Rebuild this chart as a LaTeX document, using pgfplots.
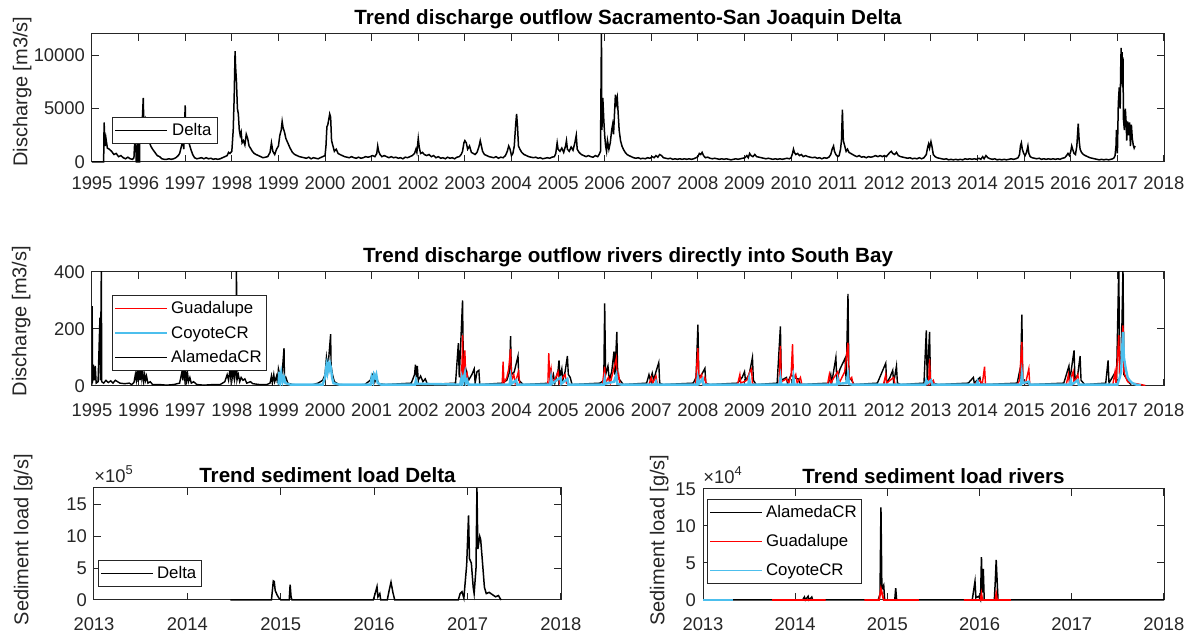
\documentclass[border=0pt]{standalone}
\usepackage{pgfplots}
\pgfplotsset{compat=1.18}
\usepackage{pgfplotstable}
\usepackage{fontspec}
\setmainfont{Liberation Sans}
\definecolor{axgray}{rgb}{0.15,0.15,0.15}
\definecolor{mcyan}{rgb}{0.30,0.75,0.93}
\definecolor{mred}{rgb}{1,0,0}
\pgfplotsset{
  every axis title/.style={at={(0.5,1)}, anchor=south, yshift=1.2pt, inner sep=1pt, font=\bfseries\fontsize{10.3}{12}\selectfont},
  myaxis/.style={
    scale only axis,
    axis line style={axgray, line width=0.5pt},
    major tick style={axgray, line width=0.5pt},
    major tick length=3.5pt,
    tick align=inside,
    tick label style={font=\fontsize{9.2}{10}\selectfont, text=axgray},
    xticklabel style={yshift=-4pt},
    /pgf/number format/assume math mode=true,
    /pgf/number format/1000 sep={},
    scaled ticks=false,
    ylabel style={font=\fontsize{10}{12}\selectfont, text=axgray, anchor=south, inner sep=0pt},
    legend cell align=left,
    legend style={font=\fontsize{8.4}{9}\selectfont, draw=axgray, line width=0.5pt, fill=white, inner xsep=1pt, inner ysep=1pt, anchor=south west, nodes={inner sep=1.5pt, text height=6.5pt, text depth=1.5pt}},
    legend image code/.code={\draw[#1, line width=0.8pt] (0pt,0pt) -- (26pt,0pt);},
    unbounded coords=jump,
  },
  mult/.style={after end axis/.code={\node[anchor=south west, inner sep=0pt, yshift=2.5pt, font=\fontsize{9.2}{10}\selectfont, text=axgray] at (rel axis cs:0,1) {×10\textsuperscript{#1}};}},
}

\pgfplotstableread{
x y
1995.00 0
1995.25 0
1995.26 3700
1995.28 1500
1995.30 2200
1995.33 1300
1995.37 1200
1995.42 1000
1995.47 700
1995.52 800
1995.57 500
1995.62 600
1995.67 400
1995.72 300
1995.77 450
1995.82 300
1995.87 250
1995.90 400
1995.92 2200
1995.94 1500
1995.95 0
1995.97 0
1995.98 2000
1996.00 0
1996.02 0
1996.03 4200
1996.05 2500
1996.08 4000
1996.10 6000
1996.11 3800
1996.14 4100
1996.18 3000
1996.22 2000
1996.26 1500
1996.30 1200
1996.35 900
1996.40 600
1996.45 500
1996.50 300
1996.55 250
1996.60 250
1996.65 300
1996.70 250
1996.75 300
1996.80 400
1996.85 600
1996.88 800
1996.92 1500
1996.95 2000
1996.97 1200
1997.00 5300
1997.01 3000
1997.04 2500
1997.08 1800
1997.12 1200
1997.16 700
1997.20 400
1997.25 300
1997.30 350
1997.35 400
1997.40 300
1997.45 400
1997.50 300
1997.55 350
1997.60 250
1997.65 300
1997.70 250
1997.75 300
1997.80 400
1997.85 500
1997.90 600
1997.93 900
1997.96 800
1998.00 1000
1998.03 3000
1998.05 6000
1998.07 10400
1998.08 9000
1998.10 7500
1998.12 5000
1998.14 4500
1998.16 3000
1998.18 2500
1998.20 2800
1998.22 1800
1998.25 2000
1998.28 1600
1998.31 2600
1998.34 2200
1998.37 1500
1998.40 1300
1998.44 1000
1998.48 800
1998.52 700
1998.57 600
1998.62 500
1998.67 400
1998.72 450
1998.77 500
1998.82 900
1998.85 1800
1998.88 1000
1998.92 700
1998.96 1200
1999.00 1500
1999.03 2500
1999.06 3000
1999.08 3800
1999.10 3200
1999.13 2800
1999.16 2200
1999.20 1800
1999.25 1300
1999.30 900
1999.35 700
1999.40 600
1999.45 500
1999.50 450
1999.55 400
1999.60 350
1999.65 450
1999.70 300
1999.75 400
1999.80 350
1999.85 300
1999.90 400
1999.95 500
2000.00 600
2000.02 1500
2000.04 3300
2000.06 3500
2000.08 4000
2000.10 4500
2000.12 4200
2000.14 2000
2000.17 1500
2000.20 1000
2000.24 1200
2000.28 800
2000.32 700
2000.37 600
2000.42 500
2000.47 450
2000.52 400
2000.57 500
2000.62 400
2000.67 350
2000.72 450
2000.77 350
2000.82 400
2000.87 500
2000.92 450
2000.97 500
2001.02 600
2001.07 500
2001.11 800
2001.13 1500
2001.15 1000
2001.18 700
2001.22 500
2001.27 600
2001.32 500
2001.37 400
2001.42 500
2001.47 400
2001.52 450
2001.57 350
2001.62 400
2001.67 300
2001.72 450
2001.77 400
2001.82 500
2001.87 600
2001.92 800
2001.95 1200
2001.97 900
2002.00 2200
2002.02 1400
2002.05 800
2002.09 900
2002.13 700
2002.18 600
2002.23 700
2002.28 500
2002.33 600
2002.38 400
2002.43 500
2002.48 350
2002.53 400
2002.58 300
2002.63 450
2002.68 350
2002.73 400
2002.78 300
2002.83 450
2002.88 500
2002.92 700
2002.95 1000
2002.98 1800
2003.00 2000
2003.03 1800
2003.06 1200
2003.10 1500
2003.14 900
2003.18 800
2003.22 700
2003.26 900
2003.30 1400
2003.33 2000
2003.35 1600
2003.38 1000
2003.42 700
2003.47 600
2003.52 500
2003.57 450
2003.62 400
2003.67 500
2003.72 350
2003.77 450
2003.82 400
2003.87 600
2003.91 1000
2003.94 1500
2003.97 1200
2004.00 600
2004.03 800
2004.06 1500
2004.09 3500
2004.11 4500
2004.13 3300
2004.15 1500
2004.18 1200
2004.22 900
2004.27 700
2004.32 600
2004.37 500
2004.42 450
2004.47 400
2004.52 450
2004.57 350
2004.62 400
2004.67 300
2004.72 350
2004.77 400
2004.82 350
2004.87 450
2004.92 500
2004.95 800
2004.98 1800
2005.00 1200
2005.04 1000
2005.08 1300
2005.12 900
2005.16 1500
2005.18 2000
2005.20 1200
2005.24 1000
2005.28 1400
2005.32 1100
2005.36 1800
2005.39 2500
2005.41 1200
2005.45 900
2005.50 700
2005.55 600
2005.60 500
2005.65 600
2005.70 500
2005.75 450
2005.80 600
2005.85 500
2005.88 700
2005.91 1000
2005.93 12000
2005.94 3000
2005.96 6000
2005.98 4000
2006.00 2500
2006.02 1500
2006.04 1000
2006.06 2000
2006.09 1200
2006.12 1800
2006.15 3000
2006.17 3500
2006.19 2600
2006.21 4500
2006.23 6300
2006.25 5500
2006.27 6000
2006.29 4500
2006.31 3000
2006.34 2000
2006.37 1500
2006.40 1200
2006.44 900
2006.48 700
2006.52 600
2006.57 500
2006.62 400
2006.67 350
2006.72 400
2006.77 300
2006.82 350
2006.87 300
2006.92 400
2006.97 350
2007.02 500
2007.06 400
2007.10 600
2007.14 450
2007.18 700
2007.22 600
2007.26 400
2007.31 350
2007.36 300
2007.41 350
2007.46 250
2007.51 300
2007.56 250
2007.61 300
2007.66 250
2007.71 300
2007.76 250
2007.81 300
2007.86 250
2007.91 300
2007.96 400
2008.00 500
2008.03 800
2008.06 700
2008.09 900
2008.12 600
2008.16 400
2008.21 450
2008.26 350
2008.31 300
2008.36 350
2008.41 300
2008.46 250
2008.51 300
2008.56 250
2008.61 300
2008.66 250
2008.71 200
2008.76 250
2008.81 300
2008.86 250
2008.91 300
2008.96 350
2009.01 400
2009.05 600
2009.08 400
2009.11 800
2009.14 600
2009.18 500
2009.22 700
2009.26 500
2009.31 450
2009.36 400
2009.41 350
2009.46 300
2009.51 350
2009.56 300
2009.61 250
2009.66 300
2009.71 250
2009.76 300
2009.81 250
2009.86 300
2009.91 350
2009.96 300
2010.00 400
2010.03 800
2010.05 1200
2010.07 900
2010.10 700
2010.14 800
2010.18 600
2010.22 700
2010.26 500
2010.31 600
2010.36 500
2010.41 450
2010.46 400
2010.51 450
2010.56 350
2010.61 400
2010.66 300
2010.71 400
2010.76 350
2010.81 450
2010.85 700
2010.88 1200
2010.91 1500
2010.93 1000
2010.96 700
2011.00 500
2011.03 600
2011.06 1200
2011.08 2000
2011.10 4900
2011.12 2000
2011.15 1500
2011.18 1000
2011.21 1200
2011.24 900
2011.28 800
2011.32 700
2011.36 600
2011.41 500
2011.46 600
2011.51 450
2011.56 500
2011.61 400
2011.66 500
2011.71 450
2011.76 500
2011.81 600
2011.86 500
2011.91 600
2011.96 500
2012.00 600
2012.04 500
2012.08 700
2012.12 900
2012.15 1000
2012.18 800
2012.22 700
2012.26 900
2012.30 600
2012.35 500
2012.40 450
2012.45 400
2012.50 350
2012.55 400
2012.60 300
2012.65 350
2012.70 300
2012.75 400
2012.80 300
2012.85 400
2012.90 700
2012.93 1400
2012.95 1700
2012.97 1300
2013.00 1900
2013.02 1500
2013.05 700
2013.09 500
2013.13 400
2013.18 350
2013.23 300
2013.28 250
2013.33 300
2013.38 200
2013.43 250
2013.48 200
2013.53 250
2013.58 200
2013.63 250
2013.68 200
2013.73 300
2013.78 250
2013.83 300
2013.88 250
2013.93 300
2013.98 250
2014.03 350
2014.07 250
2014.11 500
2014.14 300
2014.18 600
2014.22 400
2014.27 300
2014.32 250
2014.37 300
2014.42 200
2014.47 250
2014.52 200
2014.57 250
2014.62 200
2014.67 250
2014.72 300
2014.77 250
2014.82 300
2014.87 400
2014.90 700
2014.92 1500
2014.94 1800
2014.96 1200
2014.99 800
2015.02 600
2015.05 900
2015.08 1500
2015.10 800
2015.13 500
2015.17 400
2015.22 350
2015.27 300
2015.32 350
2015.37 250
2015.42 300
2015.47 250
2015.52 300
2015.57 250
2015.62 300
2015.67 250
2015.72 300
2015.77 250
2015.82 350
2015.87 400
2015.91 600
2015.94 800
2015.97 600
2016.00 1000
2016.02 1500
2016.04 1200
2016.07 800
2016.10 700
2016.13 1500
2016.16 3600
2016.18 2000
2016.20 1200
2016.23 900
2016.27 700
2016.31 600
2016.36 500
2016.41 400
2016.46 350
2016.51 300
2016.56 250
2016.61 200
2016.66 250
2016.71 200
2016.76 250
2016.81 200
2016.86 250
2016.90 300
2016.93 400
2016.95 600
2016.97 1500
2016.98 3000
2017.00 800
2017.02 5500
2017.04 7000
2017.06 5000
2017.07 8500
2017.08 10700
2017.09 9000
2017.10 10300
2017.11 7000
2017.12 9800
2017.13 4000
2017.15 3000
2017.17 5000
2017.19 3500
2017.20 2000
2017.22 3800
2017.24 2500
2017.26 3700
2017.28 1500
2017.30 3500
2017.32 2200
2017.34 1600
2017.36 1300
2017.38 1500
}\tabDelta

\pgfplotstableread{
x y
1995.000 5
1995.005 280
1995.010 10
1995.03 75
1995.05 20
1995.07 70
1995.09 10
1995.13 15
1995.17 240
1995.18 20
1995.20 420
1995.21 15
1995.25 10
1995.30 20
1995.35 12
1995.40 18
1995.45 10
1995.50 20
1995.55 15
1995.60 10
1995.70 8
1995.80 10
1995.85 5
1995.90 12
1995.93 40
1995.95 20
1995.97 60
1995.99 15
1996.01 55
1996.03 20
1996.05 60
1996.07 25
1996.09 50
1996.11 15
1996.13 40
1996.15 20
1996.17 35
1996.20 10
1996.25 15
1996.30 5
1996.45 5
1996.60 3
1996.75 5
1996.88 10
1996.93 50
1996.95 20
1996.97 60
1996.99 25
1997.01 55
1997.03 20
1997.05 45
1997.07 15
1997.10 30
1997.13 10
1997.18 15
1997.25 5
1997.40 3
1997.60 5
1997.75 5
1997.85 15
1997.90 40
1997.93 20
1997.96 60
1997.98 25
1998.00 55
1998.02 30
1998.04 60
1998.06 25
1998.08 50
1998.10 420
1998.11 20
1998.14 40
1998.17 15
1998.20 30
1998.24 20
1998.28 25
1998.32 10
1998.40 15
1998.45 8
1998.60 5
1998.75 5
1998.82 10
1998.85 35
1998.87 10
1998.90 40
1998.92 15
1998.96 35
1998.98 10
1999.00 60
1999.04 30
1999.08 45
1999.12 133
1999.13 20
1999.16 30
1999.20 10
1999.30 5
1999.50 3
1999.70 3
1999.85 10
1999.95 20
2000.00 40
2000.03 100
2000.06 60
2000.09 120
2000.12 182
2000.13 70
2000.16 40
2000.20 15
2000.30 5
2000.60 3
2000.85 5
2000.97 20
2001.00 35
2001.04 45
2001.07 15
2001.10 30
2001.15 8
2001.30 5
2001.85 10
2001.92 40
2001.94 75
2001.96 30
2001.98 70
2002.00 20
2002.05 35
2002.10 15
2002.15 25
2002.20 5
2002.80 10
2002.86 150
2002.88 30
2002.95 300
2002.97 40
2003.02 60
2003.08 20
2003.15 40
2003.20 60
2003.22 10
2003.26 50
2003.30 55
2003.32 5
2003.80 10
2003.90 20
2003.96 50
2003.98 175
2004.00 40
2004.06 50
2004.14 105
2004.16 20
2004.25 5
2004.85 10
2004.90 40
2004.93 10
2005.00 55
2005.02 90
2005.04 30
2005.08 60
2005.10 20
2005.15 50
2005.20 105
2005.22 40
2005.26 30
2005.30 5
2005.90 10
2005.98 20
2006.00 290
2006.02 40
2006.07 70
2006.10 20
2006.15 50
2006.20 121
2006.22 40
2006.26 190
2006.28 30
2006.33 20
2006.40 5
2006.90 10
2006.95 40
2006.98 20
2007.02 45
2007.05 20
2007.10 50
2007.16 82
2007.18 10
2007.25 5
2007.90 10
2007.96 30
2008.00 215
2008.02 30
2008.08 40
2008.15 62
2008.17 10
2008.25 5
2008.85 10
2008.95 30
2009.00 50
2009.02 20
2009.10 40
2009.17 100
2009.19 20
2009.25 5
2009.70 10
2009.77 209
2009.79 20
2009.90 30
2009.92 10
2010.00 40
2010.05 30
2010.15 25
2010.20 5
2010.80 10
2010.85 40
2010.87 10
2010.96 100
2010.98 20
2011.05 60
2011.16 98
2011.18 20
2011.22 323
2011.24 30
2011.30 20
2011.35 5
2011.85 10
2012.03 80
2012.05 10
2012.12 30
2012.18 55
2012.20 10
2012.26 70
2012.28 10
2012.35 5
2012.85 10
2012.90 195
2012.92 20
2012.97 190
2012.99 20
2013.05 10
2013.15 5
2013.80 10
2013.91 30
2013.93 10
2014.05 30
2014.07 10
2014.15 5
2014.85 10
2014.90 50
2014.92 20
2014.95 250
2014.97 20
2015.05 10
2015.15 5
2015.85 10
2015.96 70
2015.98 20
2016.07 125
2016.09 20
2016.15 40
2016.20 105
2016.22 20
2016.30 5
2016.75 10
2016.80 90
2016.82 10
2016.96 50
2016.98 10
2017.03 420
2017.05 30
2017.08 60
2017.12 420
2017.14 40
2017.18 30
2017.22 20
2017.26 10
2017.30 5
}\tabAlameda

\pgfplotstableread{
x y
2002.90 2
2002.94 80
2002.95 178
2002.96 20
2002.98 60
2003.00 125
2003.02 20
2003.05 40
2003.07 5
2003.30 3
2003.80 3
2003.82 85
2003.84 10
2003.90 30
2003.94 60
2003.98 130
2004.00 20
2004.05 40
2004.08 10
2004.15 50
2004.18 5
2004.40 3
2004.78 3
2004.80 115
2004.82 30
2004.85 60
2004.88 10
2004.95 30
2005.00 50
2005.03 10
2005.10 30
2005.15 40
2005.18 10
2005.25 5
2005.50 3
2005.95 3
2006.00 68
2006.02 10
2006.08 30
2006.12 10
2006.25 98
2006.27 20
2006.30 40
2006.33 5
2006.60 3
2006.95 5
2007.00 30
2007.03 10
2007.10 35
2007.13 5
2007.50 3
2007.95 5
2008.00 133
2008.02 20
2008.08 40
2008.10 10
2008.15 30
2008.18 5
2008.50 3
2008.85 5
2008.90 40
2008.92 10
2009.05 20
2009.10 45
2009.15 60
2009.17 10
2009.25 3
2009.74 3
2009.77 141
2009.79 15
2009.90 25
2009.95 10
2010.00 40
2010.03 147
2010.05 20
2010.10 40
2010.13 10
2010.20 30
2010.23 5
2010.50 3
2010.78 5
2010.82 40
2010.85 10
2010.92 30
2011.00 50
2011.03 10
2011.15 50
2011.22 152
2011.24 20
2011.30 30
2011.33 5
2011.70 3
2011.98 5
2012.03 40
2012.05 10
2012.20 30
2012.23 5
2012.50 3
2012.95 5
2012.97 93
2012.99 10
2013.05 20
2013.08 3
2013.90 3
2014.05 20
2014.10 5
2014.15 68
2014.17 5
2014.40 3
2014.85 3
2014.90 20
2014.95 155
2014.97 20
2015.03 10
2015.10 60
2015.12 5
2015.40 3
2015.90 3
2015.95 40
2015.97 10
2016.05 50
2016.07 10
2016.15 40
2016.18 5
2016.50 3
2016.90 3
2016.95 50
2016.97 10
2017.03 178
2017.05 40
2017.08 80
2017.12 213
2017.14 50
2017.18 30
2017.22 15
2017.30 10
2017.40 8
2017.50 5
2017.60 2
}\tabGuadalupe

\pgfplotstableread{
x y
1999.00 5
1999.02 50
1999.04 20
1999.06 45
1999.09 15
1999.12 30
1999.15 10
1999.25 5
1999.95 5
2000.00 30
2000.03 70
2000.05 50
2000.07 75
2000.09 60
2000.11 75
2000.13 60
2000.15 30
2000.18 10
2000.30 5
2000.98 5
2001.00 30
2001.03 15
2001.05 40
2001.08 30
2001.10 40
2001.13 10
2001.20 5
2001.93 5
2001.95 20
2001.97 8
2002.90 5
2002.93 30
2002.95 10
2003.00 45
2003.02 10
2003.05 20
2003.08 5
2003.96 5
2003.98 30
2004.00 8
2004.10 20
2004.12 5
2004.83 5
2004.85 30
2004.87 8
2005.05 30
2005.07 8
2005.20 25
2005.22 5
2005.98 5
2006.00 25
2006.02 8
2006.20 15
2006.25 40
2006.27 8
2006.35 5
2007.08 5
2007.10 15
2007.12 5
2007.98 5
2008.00 30
2008.03 10
2008.10 25
2008.12 5
2009.08 5
2009.10 25
2009.12 5
2009.75 5
2009.77 30
2009.79 5
2010.03 5
2010.05 30
2010.07 5
2010.98 5
2011.00 25
2011.03 8
2011.18 10
2011.22 40
2011.24 8
2011.30 5
2012.88 5
2012.90 20
2012.93 10
2013.00 20
2013.03 5
2013.98 5
2014.00 15
2014.02 5
2014.93 5
2014.95 40
2014.97 10
2015.10 15
2015.12 5
2015.98 5
2016.00 20
2016.02 5
2016.15 20
2016.17 5
2017.00 5
2017.05 30
2017.08 50
2017.10 120
2017.12 190
2017.14 100
2017.18 60
2017.22 30
2017.26 20
2017.32 10
2017.40 5
2017.50 2
}\tabCoyote

\pgfplotstableread{
x y
2014.46 0
2014.90 0
2014.92 3.0
2014.93 2.9
2014.94 1.5
2014.96 0.8
2014.98 0.3
2015.00 0
2015.09 0
2015.10 2.4
2015.11 0.5
2015.12 0
2015.99 0
2016.01 1.0
2016.03 2.1
2016.04 0.5
2016.06 1.0
2016.07 0
2016.14 0
2016.16 1.5
2016.18 2.8
2016.20 1.2
2016.22 0
2016.90 0
2016.92 1.0
2016.94 1.3
2016.96 0.3
2016.99 5.5
2017.01 13.3
2017.02 6.5
2017.04 5.8
2017.06 2.0
2017.07 1.0
2017.09 5.0
2017.10 17.6
2017.11 8.0
2017.13 10.0
2017.14 9.5
2017.16 5.8
2017.18 2.0
2017.20 1.0
2017.23 1.2
2017.27 0.8
2017.30 0.5
2017.33 0.7
2017.35 0.2
2017.36 0
}\tabSedDelta

\pgfplotstableread{
x y
2013.32 0
2014.08 0
2014.10 0.4
2014.11 0
2014.14 0.5
2014.15 0
2014.18 0.4
2014.19 0
2014.90 0
2014.92 0.8
2014.93 12.5
2014.94 1.5
2014.96 2.0
2014.97 0
2015.08 0
2015.09 1.6
2015.10 0
2015.92 0
2015.95 2.5
2015.96 0.3
2015.99 0.5
2016.01 0
2016.02 5.8
2016.03 1.0
2016.04 4.2
2016.05 0
2016.16 0
2016.17 2.5
2016.18 5.4
2016.19 2.6
2016.20 0
2018.00 0
}\tabSedAlameda

\pgfplotstableread{
x y
2013.75 0
2014.33 0
2014.34 nan
2014.75 0
2014.91 0
2014.92 0.7
2014.93 1.5
2014.95 0.5
2014.96 0
2015.34 0
2015.35 nan
2015.83 0
2016.01 0
2016.02 0.8
2016.03 0
2016.17 0
2016.18 0.8
2016.19 0
2016.34 0
}\tabSedGuadalupe

\pgfplotstableread{
x y
2013.00 0
2013.32 0
}\tabSedCoyote

\begin{document}
\begin{tikzpicture}
\useasboundingbox (0,0) rectangle (598pt,317.5pt);

% Top
\begin{axis}[myaxis, at={(46pt,236.5pt)}, anchor=south west,
  width=536pt, height=64pt,
  xmin=1995, xmax=2018, ymin=0, ymax=12000, clip=false,
  xtick={1995,...,2018}, ytick={0,5000,10000},
  title={Trend discharge outflow Sacramento-San Joaquin Delta},
  ylabel={Discharge [m3/s]},
  ylabel style={at={(rel axis cs:-0.056,0.55)}},
  legend style={at={(0.0187,0.14)}, nodes={inner xsep=2pt}}]
\addplot[black, line width=0.75pt] table[x=x,y=y] {\tabDelta};
\addlegendentry{Delta}
\end{axis}

% Middle
\begin{axis}[myaxis, at={(46pt,124.5pt)}, anchor=south west,
  width=536pt, height=57pt,
  xmin=1995, xmax=2018, ymin=0, ymax=400,
  xtick={1995,...,2018}, ytick={0,200,400},
  xticklabel style={yshift=-1.5pt},
  title={Trend discharge outflow rivers directly into South Bay},
  ylabel={Discharge [m3/s]},
  ylabel style={at={(rel axis cs:-0.057,0.57)}},
  legend style={at={(0.0187,0.13)}, row sep=1.25pt}]
\addlegendimage{color=mred}
\addlegendentry{Guadalupe}
\addlegendimage{color=mcyan}
\addlegendentry{CoyoteCR}
\addlegendimage{color=black}
\addlegendentry{AlamedaCR}
\addplot[black, line width=0.7pt, forget plot] table[x=x,y=y] {\tabAlameda};
\addplot[mred, line width=0.7pt, forget plot] table[x=x,y=y] {\tabGuadalupe};
\addplot[mcyan, line width=1.2pt, forget plot] table[x=x,y=y] {\tabCoyote};
\end{axis}

% Bottom left
\begin{axis}[myaxis, mult=5, at={(47pt,17.5pt)}, anchor=south west,
  width=233.5pt, height=56pt,
  xmin=2013, xmax=2018, ymin=0, ymax=17.6, clip=false,
  xtick={2013,...,2018}, ytick={0,5,10,15},
  xticklabel style={yshift=-1.5pt},
  title={Trend sediment load Delta},
  ylabel={Sediment load [g/s]},
  ylabel style={at={(rel axis cs:-0.131,0.54)}},
  legend style={at={(0.0086,0.116)}}]
\addplot[black, line width=0.75pt] table[x=x,y=y] {\tabSedDelta};
\addlegendentry{Delta}
\end{axis}

% Bottom right
\begin{axis}[myaxis, mult=4, at={(351.5pt,17.5pt)}, anchor=south west,
  width=230.5pt, height=55.5pt,
  xmin=2013, xmax=2018, ymin=0, ymax=15, clip=false,
  xtick={2013,...,2018}, ytick={0,5,10,15},
  xticklabel style={yshift=-1.5pt},
  title={Trend sediment load rivers},
  ylabel={Sediment load [g/s]},
  ylabel style={at={(rel axis cs:-0.074,0.54)}},
  legend style={at={(0.0087,0.144)}, row sep=3.5pt}]
\addlegendimage{color=black}
\addlegendentry{AlamedaCR}
\addlegendimage{color=mred}
\addlegendentry{Guadalupe}
\addlegendimage{color=mcyan}
\addlegendentry{CoyoteCR}
\addplot[black, line width=0.75pt, forget plot] table[x=x,y=y] {\tabSedAlameda};
\addplot[mred, line width=0.9pt, forget plot] table[x=x,y=y] {\tabSedGuadalupe};
\addplot[mcyan, line width=0.9pt, forget plot] table[x=x,y=y] {\tabSedCoyote};
\end{axis}
\end{tikzpicture}
\end{document}
